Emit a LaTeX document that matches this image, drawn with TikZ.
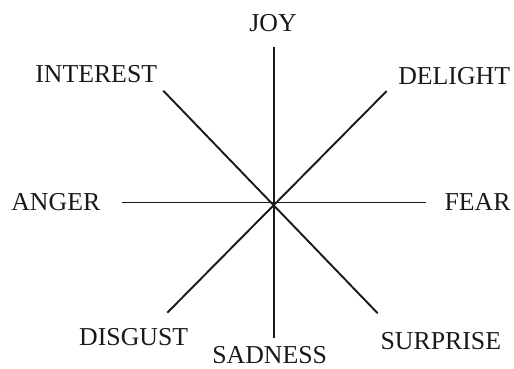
\documentclass[tikz,border=0pt]{standalone}
\usepackage{fontspec}
\setmainfont{Liberation Serif}
\begin{document}
\begin{tikzpicture}[x=1pt,y=-1pt,
  lbl/.style={inner sep=0pt,text height=17pt,text depth=0pt,text=black!90,
    font=\fontsize{25.8}{30}\selectfont},
  spoke/.style={line width=1.9pt,draw=black!90}]
\useasboundingbox (0,0) rectangle (514,368);
\coordinate (c) at (274,202.5);
\coordinate (top) at (274,46.5);
\coordinate (bot) at (274,338);
\coordinate (lft) at (121.5,202.5);
\coordinate (rgt) at (425.5,202.5);
\coordinate (tl) at (163.3,90.7);
\coordinate (br) at (377.7,313.3);
\coordinate (tr) at (386.7,91);
\coordinate (bl) at (167.3,312.7);
\draw[spoke] (top) -- (bot);
\draw[spoke] (lft) -- (rgt);
\draw[spoke] (tl) -- (br);
\draw[spoke] (tr) -- (bl);
\node[lbl] (joy) at (273,22.7) {JOY};
\node[lbl] (interest) at (96.2,74) {INTEREST};
\node[lbl] (delight) at (454.2,76) {DELIGHT};
\node[lbl] (anger) at (55.8,202) {ANGER};
\node[lbl] (fear) at (477.5,202) {FEAR};
\node[lbl] (disgust) at (133.7,336.7) {DISGUST};
\node[lbl] (sadness) at (269.7,354.5) {SADNESS};
\node[lbl] (surprise) at (440.8,340.7) {SURPRISE};
\end{tikzpicture}
\end{document}
